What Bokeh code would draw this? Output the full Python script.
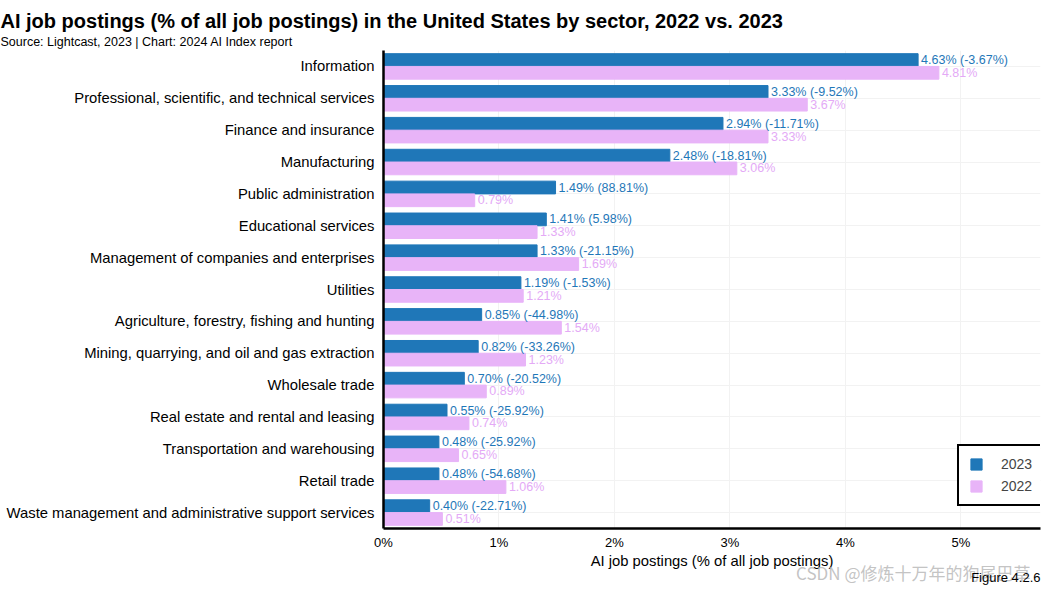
from bokeh.plotting import figure
from bokeh.models import ColumnDataSource, Range1d, FactorRange, Legend, LegendItem, Title, FixedTicker
from bokeh.transform import dodge
from bokeh.core.properties import value
from bokeh.embed import file_html
from bokeh.resources import INLINE

sectors = [
    "Information",
    "Professional, scientific, and technical services",
    "Finance and insurance",
    "Manufacturing",
    "Public administration",
    "Educational services",
    "Management of companies and enterprises",
    "Utilities",
    "Agriculture, forestry, fishing and hunting",
    "Mining, quarrying, and oil and gas extraction",
    "Wholesale trade",
    "Real estate and rental and leasing",
    "Transportation and warehousing",
    "Retail trade",
    "Waste management and administrative support services",
]
v2023 = [4.63, 3.33, 2.94, 2.48, 1.49, 1.41, 1.33, 1.19, 0.85, 0.82, 0.70, 0.55, 0.48, 0.48, 0.40]
v2022 = [4.81, 3.67, 3.33, 3.06, 0.79, 1.33, 1.69, 1.21, 1.54, 1.23, 0.89, 0.74, 0.65, 1.06, 0.51]
change = [-3.67, -9.52, -11.71, -18.81, 88.81, 5.98, -21.15, -1.53, -44.98, -33.26, -20.52, -25.92, -25.92, -54.68, -22.71]
x_ticks = [0, 1, 2, 3, 4, 5]

BLUE = "#1f77b8"
PINK = "#e8b4f8"
PINK_TXT = "#e4aaf6"
FONT = "Liberation Sans"

src = ColumnDataSource(dict(
    sector=sectors, v2023=v2023, v2022=v2022,
    lab2023=[f"{a:.2f}% ({c:.2f}%)" for a, c in zip(v2023, change)],
    lab2022=[f"{b:.2f}%" for b in v2022],
))

p = figure(width=1055, height=588, output_backend="svg", toolbar_location=None,
           y_range=FactorRange(factors=list(reversed(sectors)), range_padding=0),
           x_range=Range1d(0, 5.69),
           min_border_left=383, min_border_right=15, min_border_bottom=60, min_border_top=50)
p.title.visible = False

r1 = p.hbar(y=dodge("sector", 0.2, range=p.y_range), right="v2023", left=0, height=0.4,
            source=src, color=BLUE)
r2 = p.hbar(y=dodge("sector", -0.2, range=p.y_range), right="v2022", left=0, height=0.4,
            source=src, color=PINK)

p.text(x="v2023", y=dodge("sector", 0.2, range=p.y_range), text="lab2023", source=src,
       x_offset=3, text_baseline="middle", text_align="left", text_color=BLUE,
       text_font=value(FONT), text_font_size="12.5px")
p.text(x="v2022", y=dodge("sector", -0.2, range=p.y_range), text="lab2022", source=src,
       x_offset=3, text_baseline="middle", text_align="left", text_color=PINK_TXT,
       text_font=value(FONT), text_font_size="12.5px")

legend = Legend(items=[LegendItem(label="2023", renderers=[r1]), LegendItem(label="2022", renderers=[r2])],
                location=(574, 22), border_line_color="black", border_line_width=2, border_line_alpha=1,
                label_text_font=FONT, label_text_font_size="14px", glyph_width=14, glyph_height=14,
                padding=10, spacing=6, margin=0, label_standoff=18)
p.add_layout(legend, "center")

p.xaxis.ticker = FixedTicker(ticks=x_ticks)
p.xaxis.major_label_overrides = {t: f"{t}%" for t in x_ticks}
p.xaxis.axis_label = "AI job postings (% of all job postings)"
p.xaxis.axis_label_text_font = FONT
p.xaxis.axis_label_text_font_style = "normal"
p.xaxis.axis_label_text_font_size = "14.8px"
p.xaxis.axis_label_standoff = 0
p.xaxis.major_label_text_font = FONT
p.xaxis.major_label_text_font_size = "13px"
p.xaxis.major_label_standoff = 0
p.yaxis.major_label_text_font = FONT
p.yaxis.major_label_text_font_size = "14.8px"
p.yaxis.major_label_standoff = 3
for ax in (p.xaxis, p.yaxis):
    ax.axis_line_color = "black"
    ax.axis_line_width = 2.5
    ax.major_tick_line_color = None
    ax.minor_tick_line_color = None
    ax.major_label_text_color = "black"
p.xaxis.axis_label_text_color = "black"

p.xgrid.grid_line_color = "#f2f2f2"
p.ygrid.grid_line_color = "#f2f2f2"
p.outline_line_color = None

p.add_layout(Title(text="CSDN @修炼十万年的狗尾巴草", align="right", text_font="Noto Sans CJK SC",
                   text_font_size="17px", text_color="#b4b4b4", text_alpha=0.8, text_font_style="normal",
                   offset=10, standoff=-27), "below")
p.add_layout(Title(text="Figure 4.2.6", align="right", text_font=FONT, text_font_size="13px",
                   text_color="black", text_font_style="normal", offset=0, standoff=-7), "below")
p.add_layout(Title(text="Source: Lightcast, 2023 | Chart: 2024 AI Index report", align="left",
                   text_font=FONT, text_font_size="12.5px", text_font_style="normal", standoff=3,
                   text_color="black", offset=-383), "above")
p.add_layout(Title(text="AI job postings (% of all job postings) in the United States by sector, 2022 vs. 2023",
                   align="left", text_font=FONT, text_font_size="20px", text_font_style="bold",
                   text_color="black", standoff=0, offset=-383), "above")

open("out.html", "w").write(file_html(p, INLINE))
